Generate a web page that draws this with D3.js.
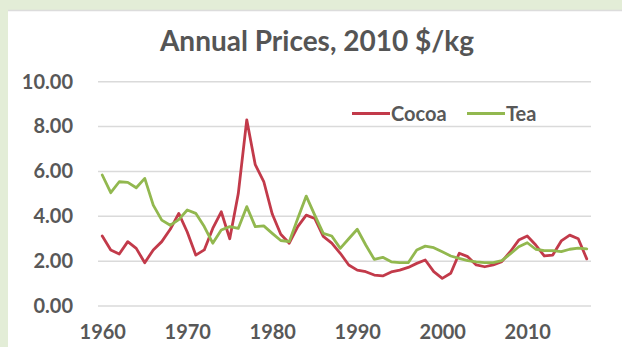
<!DOCTYPE html>
<html><head><meta charset="utf-8">
<script src="https://cdn.jsdelivr.net/npm/d3@7"></script>
<style>html,body{margin:0;padding:0;background:#e3edd7;}svg{display:block;}</style>
</head><body>
<svg id="chart" width="622" height="347"></svg>
<script>
const years = d3.range(1960, 2018);
const cocoa = [3.12,2.5,2.32,2.87,2.57,1.93,2.5,2.87,3.42,4.13,
               3.3,2.27,2.5,3.46,4.2,3.0,5.0,8.3,6.3,5.55,
               4.1,3.2,2.8,3.54,4.05,3.9,3.1,2.8,2.35,1.83,
               1.6,1.53,1.38,1.34,1.52,1.6,1.72,1.9,2.05,1.53,
               1.23,1.46,2.35,2.2,1.83,1.75,1.83,1.98,2.42,2.94,
               3.12,2.72,2.23,2.27,2.9,3.16,3.0,2.1];
const tea   = [5.84,5.05,5.54,5.51,5.27,5.69,4.5,3.83,3.6,3.85,
               4.28,4.13,3.54,2.8,3.39,3.54,3.46,4.43,3.54,3.57,
               3.24,2.92,2.87,3.9,4.9,4.05,3.24,3.12,2.57,3.0,
               3.42,2.72,2.08,2.17,1.97,1.93,1.93,2.5,2.67,2.6,
               2.42,2.23,2.12,2.02,1.97,1.93,1.93,2.02,2.32,2.64,
               2.82,2.53,2.47,2.47,2.42,2.53,2.58,2.55];
const yTicks = [0,2,4,6,8,10];
const xTicks = [1960,1970,1980,1990,2000,2010];
const seriesNames = ["Cocoa","Tea"];
const seriesColors = ["#c23a4a","#92b84f"];
const title = "Annual Prices, 2010 $/kg";

const svg = d3.select("#chart");
const W = 622, H = 347;
// white panel
svg.append("rect").attr("x",8).attr("y",10).attr("width",W-8).attr("height",H-10).attr("fill","#ffffff");
svg.append("line").attr("x1",8).attr("x2",W).attr("y1",10.5).attr("y2",10.5).attr("stroke","#dcdcdc").attr("stroke-width",1.5);

const x = d3.scalePoint().domain(years).range([98,591]).padding(0.5);
const y = d3.scaleLinear().domain([0,10]).range([306,81.7]);

const font = "Lato, 'Open Sans', sans-serif";
// grid
svg.append("g").selectAll("line").data(yTicks).join("line")
  .attr("x1",98).attr("x2",591).attr("y1",d=>y(d)).attr("y2",d=>y(d))
  .attr("stroke","#dadada").attr("stroke-width",1.5);

// y axis
const yAxis = svg.append("g").attr("transform","translate(80,0)")
  .call(d3.axisLeft(y).tickValues(yTicks).tickSize(0).tickPadding(7).tickFormat(d3.format(".2f")));
yAxis.select(".domain").remove();
yAxis.selectAll("text").attr("font-family",font).attr("font-size",20).attr("font-weight",700).attr("fill","#585858");

// x axis
const xAxis = svg.append("g").attr("transform","translate(0,321)")
  .call(d3.axisBottom(x).tickValues(xTicks).tickSize(0).tickPadding(4));
xAxis.select(".domain").remove();
xAxis.selectAll("text").attr("font-family",font).attr("font-size",20).attr("font-weight",700).attr("fill","#585858");

// lines
const line = d3.line().x((d,i)=>x(years[i])).y(d=>y(d));
[cocoa, tea].forEach((s,k)=>{
  svg.append("path").datum(s).attr("d",line).attr("fill","none")
    .attr("stroke",seriesColors[k]).attr("stroke-width",2.8)
    .attr("stroke-linejoin","round").attr("stroke-linecap","round");
});

// title
svg.append("text").attr("x",317).attr("y",51).attr("text-anchor","middle")
  .attr("font-family",font).attr("font-size",28).attr("font-weight",700).attr("fill","#555555").text(title);

// legend
const legX = [352, 467];
seriesNames.forEach((n,k)=>{
  const g = svg.append("g").attr("transform",`translate(${legX[k]},113.5)`);
  g.append("line").attr("x1",0).attr("x2",38).attr("y1",0).attr("y2",0).attr("stroke",seriesColors[k]).attr("stroke-width",2.8);
  g.append("text").attr("x",39).attr("y",0).attr("dy","0.35em").attr("font-family",font).attr("font-size",20)
    .attr("font-weight",700).attr("fill","#585858").text(n);
});
</script>
</body></html>
